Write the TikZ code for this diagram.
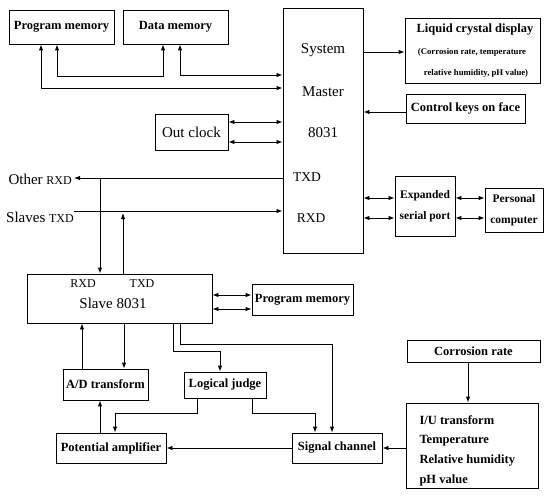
\documentclass[tikz,border=0pt]{standalone}
\usepackage{fontspec}
\setmainfont{Liberation Serif}
\usetikzlibrary{arrows.meta}
\begin{document}
\begin{tikzpicture}[x=1pt,y=-1pt,
  box/.style={draw,line width=0.9pt,inner sep=0pt,align=center},
  bt/.style={font=\bfseries\fontsize{12.5}{15}\selectfont},
  sm/.style={font=\bfseries\fontsize{11.5}{21}\selectfont},
  big/.style={font=\fontsize{15}{18}\selectfont},
  mid/.style={font=\fontsize{13.5}{16}\selectfont},
  tiny/.style={font=\bfseries\fontsize{8.7}{10}\selectfont},
  plain/.style={inner sep=0pt},
  con/.style={line width=0.9pt,-{Latex[length=6pt,width=4.5pt]}},
  bi/.style={line width=0.9pt,{Latex[length=6pt,width=4.5pt]}-{Latex[length=6pt,width=4.5pt]}},
]
\useasboundingbox (0,0) rectangle (545,500);

% boxes
\node[box,bt,minimum width=105pt,minimum height=34pt] (pm) at (61.5,27) {Program memory};
\node[box,bt,minimum width=105pt,minimum height=34pt] (dm) at (175.5,27) {Data memory};
\node[box,minimum width=80pt,minimum height=245pt] (master) at (323,130.5) {};
\node[box,minimum width=135pt,minimum height=65pt] (lcd) at (472.5,50.5) {};
\node[box,bt,minimum width=119pt,minimum height=29pt] (keys) at (465.5,108.5) {Control keys on face};
\node[box,big,minimum width=73pt,minimum height=36pt] (clock) at (191.5,132) {Out clock};
\node[box,sm,minimum width=60pt,minimum height=60pt] (esp) at (425,206) {Expanded\\serial port};
\node[box,sm,minimum width=58pt,minimum height=44pt] (pc) at (514,210) {Personal\\computer};
\node[box,minimum width=185pt,minimum height=49pt] (slave) at (119.5,298.5) {};
\node[box,bt,minimum width=101pt,minimum height=31pt] (pm2) at (302.5,299.5) {Program memory};
\node[box,bt,minimum width=85pt,minimum height=31pt] (ad) at (105.5,384.5) {A/D transform};
\node[box,bt,minimum width=82pt,minimum height=26pt] (lj) at (225,385) {Logical judge};
\node[box,bt,minimum width=110pt,minimum height=30pt] (pa) at (111,448) {Potential amplifier};
\node[box,bt,minimum width=90pt,minimum height=30pt] (sc) at (337,448) {Signal channel};
\node[box,bt,minimum width=133pt,minimum height=22pt] (cr) at (473.5,351) {Corrosion rate};
\node[box,minimum width=132pt,minimum height=85pt] (iu) at (472,445.5) {};

% texts inside boxes
\node[big] (msys) at (323,50) {System};
\node[big] (mmas) at (323,92) {Master};
\node[big] (mnum) at (323,133) {8031};
\node[mid] (mtxd) at (307,177) {TXD};
\node[mid] (mrxd) at (311,218) {RXD};
\node[bt] (lcd1) at (475,30) {Liquid crystal display};
\node[tiny] (lcd2) at (472,52) {(Corrosion rate, temperature};
\node[tiny] (lcd3) at (476,73) {relative humidity, pH value)};
\node[font=\fontsize{12}{14}\selectfont] (srxd) at (83,284) {RXD};
\node[font=\fontsize{12}{14}\selectfont] (stxd2) at (142,284) {TXD};
\node[big] (snum) at (113,303) {Slave 8031};
\node[bt,anchor=west] (iu1) at (416,420) {I/U transform};
\node[bt,anchor=west] (iu2) at (416,441) {Temperature};
\node[bt,anchor=west] (iu3) at (416,461) {Relative humidity};
\node[bt,anchor=west] (iu4) at (416,480) {pH value};

% outer labels
\node[plain,anchor=east] (orxd) at (72,179) {\fontsize{15}{18}\selectfont Other {\fontsize{12}{14}\selectfont RXD}};
\node[plain,anchor=west] (stxd) at (6,217) {\fontsize{15}{18}\selectfont Slaves {\fontsize{12}{14}\selectfont TXD}};

% coordinates
\coordinate (a1) at (41,88);
\coordinate (b1) at (57,76);
\coordinate (b2) at (163,76);
\coordinate (c1) at (180,75);
\coordinate (d1) at (228,122);
\coordinate (d2) at (228,142);
\coordinate (e1) at (363,52);
\coordinate (f1) at (0,112);
\coordinate (g1) at (74,178);
\coordinate (h1) at (74,211);
\coordinate (i1) at (100,178);
\coordinate (j1) at (123,213);
\coordinate (k1) at (0,295);
\coordinate (k2) at (0,309);
\coordinate (l1) at (0,198);
\coordinate (l2) at (0,218);
\coordinate (m1) at (82,0);
\coordinate (n1) at (124,0);
\coordinate (o1) at (173,351);
\coordinate (o2) at (220,351);
\coordinate (p1) at (180,344);
\coordinate (p2) at (332,344);
\coordinate (q1) at (197,413);
\coordinate (q2) at (115,413);
\coordinate (r1) at (252,413);
\coordinate (r2) at (315,413);
\coordinate (t1) at (100,0);
\coordinate (v1) at (468,0);

% connectors
\draw[bi] (pm.south -| a1) -- (a1) -- (a1 -| master.west);
\draw[bi] (pm.south -| b1) -- (b1) -- (b2) -- (dm.south -| b2);
\draw[bi] (dm.south -| c1) -- (c1) -- (c1 -| master.west);
\draw[bi] (clock.east |- d1) -- (d1 -| master.west);
\draw[bi] (clock.east |- d2) -- (d2 -| master.west);
\draw[con] (e1 -| master.east) -- (e1 -| lcd.west);
\draw[con] (f1 -| keys.west) -- (f1 -| master.east);
\draw[con] (g1 -| master.west) -- (g1);
\draw[con] (h1) -- (h1 -| master.west);
\draw[con] (i1) -- (i1 |- slave.north);
\draw[con] (j1 |- slave.north) -- (j1);
\draw[bi] (k1 -| slave.east) -- (k1 -| pm2.west);
\draw[bi] (k2 -| slave.east) -- (k2 -| pm2.west);
\draw[bi] (l1 -| master.east) -- (l1 -| esp.west);
\draw[bi] (l2 -| master.east) -- (l2 -| esp.west);
\draw[bi] (l1 -| esp.east) -- (l1 -| pc.west);
\draw[bi] (l2 -| esp.east) -- (l2 -| pc.west);
\draw[con] (ad.north -| m1) -- (slave.south -| m1);
\draw[con] (slave.south -| n1) -- (ad.north -| n1);
\draw[con] (slave.south -| o1) -- (o1) -- (o2) -- (lj.north -| o2);
\draw[con] (slave.south -| p1) -- (p1) -- (p2) -- (sc.north -| p2);
\draw[con] (lj.south -| q1) -- (q1) -- (q2) -- (pa.north -| q2);
\draw[con] (lj.south -| r1) -- (r1) -- (r2) -- (sc.north -| r2);
\draw[con] (sc.west) -- (pa.east);
\draw[con] (pa.north -| t1) -- (ad.south -| t1);
\draw[con] (iu.west |- sc.east) -- (sc.east);
\draw[con] (cr.south -| v1) -- (iu.north -| v1);
\end{tikzpicture}
\end{document}
